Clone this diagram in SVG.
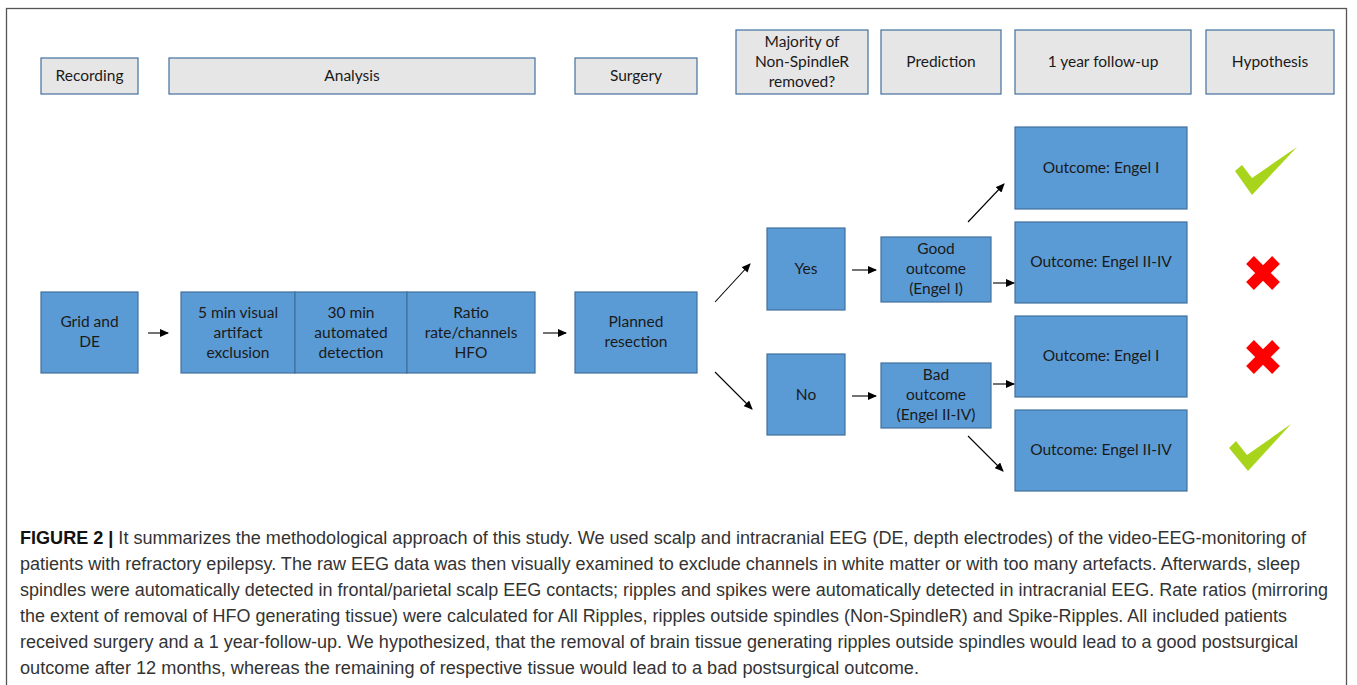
<svg xmlns="http://www.w3.org/2000/svg" width="1357" height="685" viewBox="0 0 1357 685">
<style>
.hdr{fill:#e7e6e6;stroke:#41719c;stroke-width:1.2}
.blu{fill:#5b9bd5;stroke:#41719c;stroke-width:1.2}
.t{font-family:Lato,"Open Sans","Liberation Sans",sans-serif;font-size:15.5px;fill:#1a1a1a;text-anchor:middle}
.cap{font-family:"Liberation Sans Narrow","Liberation Sans",Arial,sans-serif;font-size:17.5px;fill:#333}
.arr{stroke:#000;stroke-width:1.1;fill:none;marker-end:url(#ah)}
</style>
<defs>
<marker id="ah" markerUnits="userSpaceOnUse" markerWidth="9" markerHeight="8" refX="8" refY="4" orient="auto">
<path d="M0,0 L9,4 L0,8 z" fill="#000"/>
</marker>
</defs>
<rect x="0" y="0" width="1357" height="685" fill="#fff"/>
<rect x="6.5" y="8.5" width="1340" height="680" fill="none" stroke="#555" stroke-width="1.3"/>

<g id="hdr-recording"><rect class="hdr" x="41" y="58" width="97" height="36"/><text class="t" x="89.5" y="81">Recording</text></g>
<g id="hdr-analysis"><rect class="hdr" x="169" y="58" width="366" height="36"/><text class="t" x="352" y="81">Analysis</text></g>
<g id="hdr-surgery"><rect class="hdr" x="575" y="58" width="122" height="36"/><text class="t" x="636" y="81">Surgery</text></g>
<g id="hdr-majority"><rect class="hdr" x="736" y="30" width="132" height="64"/><text class="t" x="802" y="47">Majority of</text><text class="t" x="802" y="67">Non-SpindleR</text><text class="t" x="802" y="87">removed?</text></g>
<g id="hdr-prediction"><rect class="hdr" x="881" y="30" width="120" height="64"/><text class="t" x="941" y="67">Prediction</text></g>
<g id="hdr-followup"><rect class="hdr" x="1015" y="30" width="176" height="64"/><text class="t" x="1103" y="67">1 year follow-up</text></g>
<g id="hdr-hypothesis"><rect class="hdr" x="1206" y="30" width="128" height="64"/><text class="t" x="1270" y="67">Hypothesis</text></g>

<g id="grid-de"><rect class="blu" x="41" y="292" width="97" height="81"/><text class="t" x="89.5" y="327">Grid and</text><text class="t" x="89.5" y="347">DE</text></g>
<g id="visual-exclusion"><rect class="blu" x="181" y="292" width="114" height="81"/><text class="t" x="238" y="318">5 min visual</text><text class="t" x="238" y="338">artifact</text><text class="t" x="238" y="358">exclusion</text></g>
<g id="auto-detection"><rect class="blu" x="295" y="292" width="112" height="81"/><text class="t" x="351" y="318">30 min</text><text class="t" x="351" y="338">automated</text><text class="t" x="351" y="358">detection</text></g>
<g id="ratio"><rect class="blu" x="407" y="292" width="128" height="81"/><text class="t" x="471" y="318">Ratio</text><text class="t" x="471" y="338">rate/channels</text><text class="t" x="471" y="358">HFO</text></g>
<g id="planned-resection"><rect class="blu" x="575" y="292" width="122" height="81"/><text class="t" x="636" y="327">Planned</text><text class="t" x="636" y="347">resection</text></g>
<g id="yes"><rect class="blu" x="767" y="228" width="78" height="82"/><text class="t" x="806" y="274">Yes</text></g>
<g id="no"><rect class="blu" x="767" y="354" width="78" height="81"/><text class="t" x="806" y="400">No</text></g>
<g id="good-outcome"><rect class="blu" x="881" y="237" width="110" height="65"/><text class="t" x="936" y="254">Good</text><text class="t" x="936" y="274">outcome</text><text class="t" x="936" y="294">(Engel I)</text></g>
<g id="bad-outcome"><rect class="blu" x="881" y="363" width="110" height="65"/><text class="t" x="936" y="380">Bad</text><text class="t" x="936" y="400">outcome</text><text class="t" x="936" y="420">(Engel II-IV)</text></g>
<g id="out1"><rect class="blu" x="1015" y="127" width="172" height="82"/><text class="t" x="1101" y="173">Outcome: Engel I</text></g>
<g id="out2"><rect class="blu" x="1015" y="222" width="172" height="81"/><text class="t" x="1101" y="267">Outcome: Engel II-IV</text></g>
<g id="out3"><rect class="blu" x="1015" y="316" width="172" height="81"/><text class="t" x="1101" y="361">Outcome: Engel I</text></g>
<g id="out4"><rect class="blu" x="1015" y="410" width="172" height="81"/><text class="t" x="1101" y="455">Outcome: Engel II-IV</text></g>

<g id="hyp1"><polygon points="1235,171 1242,165 1252,178 1297,147 1252,195" fill="#a8d51c"/></g>
<g id="hyp2"><path d="M1250,260 L1276,286 M1276,260 L1250,286" stroke="#ff0000" stroke-width="11"/></g>
<g id="hyp3"><path d="M1250,344 L1276,370 M1276,344 L1250,370" stroke="#ff0000" stroke-width="11"/></g>
<g id="hyp4"><polygon points="1229,448 1236,441 1247,455 1291,424 1248,471" fill="#a8d51c"/></g>

<g id="connectors">
<line class="arr" x1="148" y1="333" x2="168" y2="333"/>
<line class="arr" x1="543" y1="333" x2="566" y2="333"/>
<line class="arr" x1="715" y1="302" x2="750" y2="264"/>
<line class="arr" x1="715" y1="372" x2="752" y2="409"/>
<line class="arr" x1="852" y1="270" x2="876" y2="270"/>
<line class="arr" x1="852" y1="396" x2="876" y2="396"/>
<line class="arr" x1="968" y1="222" x2="1004" y2="184"/>
<line class="arr" x1="993" y1="283" x2="1014" y2="283"/>
<line class="arr" x1="993" y1="384" x2="1014" y2="384"/>
<line class="arr" x1="968" y1="436" x2="1003" y2="471"/>
</g>

<g id="caption">
<text class="cap" x="20" y="544" textLength="1286" lengthAdjust="spacingAndGlyphs"><tspan font-weight="bold" fill="#111">FIGURE 2 |</tspan> It summarizes the methodological approach of this study. We used scalp and intracranial EEG (DE, depth electrodes) of the video-EEG-monitoring of</text>
<text class="cap" x="20" y="570" textLength="1280" lengthAdjust="spacingAndGlyphs">patients with refractory epilepsy. The raw EEG data was then visually examined to exclude channels in white matter or with too many artefacts. Afterwards, sleep</text>
<text class="cap" x="20" y="596" textLength="1308" lengthAdjust="spacingAndGlyphs">spindles were automatically detected in frontal/parietal scalp EEG contacts; ripples and spikes were automatically detected in intracranial EEG. Rate ratios (mirroring</text>
<text class="cap" x="20" y="622" textLength="1267" lengthAdjust="spacingAndGlyphs">the extent of removal of HFO generating tissue) were calculated for All Ripples, ripples outside spindles (Non-SpindleR) and Spike-Ripples. All included patients</text>
<text class="cap" x="20" y="648" textLength="1278" lengthAdjust="spacingAndGlyphs">received surgery and a 1 year-follow-up. We hypothesized, that the removal of brain tissue generating ripples outside spindles would lead to a good postsurgical</text>
<text class="cap" x="20" y="674" textLength="899" lengthAdjust="spacingAndGlyphs">outcome after 12 months, whereas the remaining of respective tissue would lead to a bad postsurgical outcome.</text>
</g>
</svg>
